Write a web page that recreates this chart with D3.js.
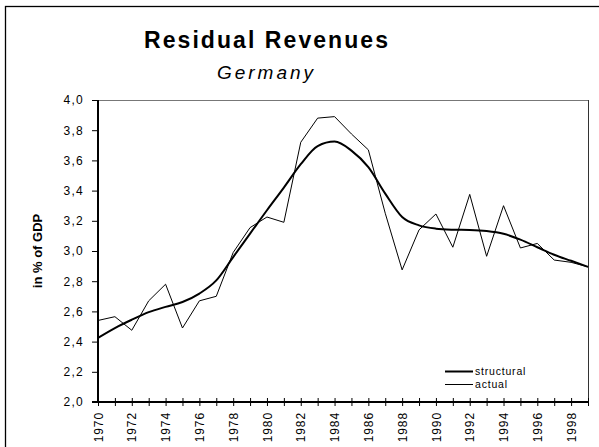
<!DOCTYPE html>
<html>
<head>
<meta charset="utf-8">
<script src="https://cdn.jsdelivr.net/npm/d3@7"></script>
<style>
  html, body { margin: 0; padding: 0; background: #fff; }
  svg { display: block; font-family: "Liberation Sans", Arial, sans-serif; }
</style>
</head>
<body>
<svg id="chart" width="599" height="447"></svg>
<script>
// Residual revenues of Germany, in % of GDP
const years = d3.range(1970, 2000);
const actual = [
  2.54, 2.565, 2.475, 2.67, 2.78, 2.49, 2.67, 2.70, 2.99, 3.155,
  3.225, 3.19, 3.72, 3.88, 3.89, 3.775, 3.67, 3.25, 2.875, 3.14,
  3.245, 3.025, 3.375, 2.965, 3.30, 3.02, 3.05, 2.94, 2.925, 2.895
];
const structural = [
  2.425, 2.49, 2.545, 2.595, 2.63, 2.662, 2.718, 2.805, 2.96, 3.115,
  3.27, 3.42, 3.575, 3.695, 3.725, 3.665, 3.555, 3.38, 3.225, 3.17,
  3.148, 3.141, 3.139, 3.132, 3.114, 3.075, 3.025, 2.975, 2.935, 2.895
];
const yTicks = [2.0, 2.2, 2.4, 2.6, 2.8, 3.0, 3.2, 3.4, 3.6, 3.8, 4.0];
const xLabelYears = d3.range(1970, 1999, 2);
const seriesNames = ["structural", "actual"];

const svg = d3.select("#chart");
const plotLeft = 98, plotRight = 588, plotTop = 100, plotBottom = 402;

const x = d3.scaleLinear().domain([1970, 1999]).range([plotLeft, plotRight]);
const y = d3.scaleLinear().domain([2.0, 4.0]).range([plotBottom, plotTop]);

// outer chart frame
svg.append("rect")
  .attr("x", 5.5).attr("y", 6.5)
  .attr("width", 620).attr("height", 460)
  .attr("fill", "none").attr("stroke", "#000").attr("stroke-width", 1.3);

// plot area frame: top and right edges
svg.append("line").attr("x1", plotLeft).attr("x2", plotRight)
  .attr("y1", plotTop + 0.5).attr("y2", plotTop + 0.5)
  .attr("stroke", "#777").attr("stroke-width", 1);
svg.append("line").attr("x1", plotRight + 0.5).attr("x2", plotRight + 0.5)
  .attr("y1", plotTop).attr("y2", plotBottom)
  .attr("stroke", "#333").attr("stroke-width", 1);

// titles
svg.append("text")
  .attr("x", 266).attr("y", 48)
  .attr("text-anchor", "middle")
  .attr("font-size", 23).attr("font-weight", "bold")
  .attr("textLength", 244).attr("lengthAdjust", "spacing")
  .text("Residual Revenues");
svg.append("text")
  .attr("x", 265).attr("y", 79)
  .attr("text-anchor", "middle")
  .attr("font-size", 19).attr("font-style", "italic")
  .attr("textLength", 96).attr("lengthAdjust", "spacing")
  .text("Germany");

// y axis
const yAxis = d3.axisLeft(y)
  .tickValues(yTicks)
  .tickSize(6)
  .tickPadding(8)
  .tickFormat(d => d3.format(".1f")(d).replace(".", ","));
const gy = svg.append("g").attr("transform", `translate(${plotLeft},0)`).call(yAxis);
gy.select(".domain").remove();
gy.selectAll(".tick line").attr("stroke", "#000");
gy.selectAll(".tick text").attr("font-size", 12).attr("fill", "#000")
  .attr("letter-spacing", 1.3)
  .attr("font-family", "Liberation Sans, Arial, sans-serif");
svg.append("line").attr("x1", plotLeft).attr("x2", plotLeft)
  .attr("y1", plotTop).attr("y2", plotBottom + 1)
  .attr("stroke", "#000").attr("stroke-width", 2);

// x axis: crossing ticks every year, labels every second year
const gx = svg.append("g").attr("transform", `translate(0,${plotBottom})`);
gx.selectAll("line.tk").data(years).join("line")
  .attr("class", "tk")
  .attr("x1", d => x(d) + 0.5).attr("x2", d => x(d) + 0.5)
  .attr("y1", -4).attr("y2", 4)
  .attr("stroke", "#000").attr("stroke-width", 1);
gx.append("line").attr("x1", plotLeft - 6).attr("x2", plotRight + 1).attr("y1", 0).attr("y2", 0)
  .attr("stroke", "#000").attr("stroke-width", 2);
gx.selectAll("text.lbl").data(xLabelYears).join("text")
  .attr("class", "lbl")
  .attr("transform", d => `translate(${x(d) + 0.5},10) rotate(-90)`)
  .attr("text-anchor", "end")
  .attr("dy", "0.35em")
  .attr("font-size", 12)
  .attr("letter-spacing", 0.9)
  .text(d => d);

// y axis title
svg.append("text")
  .attr("transform", "translate(42,251) rotate(-90)")
  .attr("text-anchor", "middle")
  .attr("font-size", 13).attr("font-weight", "bold")
  .text("in % of GDP");

// series
svg.append("path").datum(actual)
  .attr("d", d3.line().x((d, i) => x(years[i])).y(d => y(d)).curve(d3.curveLinear))
  .attr("fill", "none").attr("stroke", "#000").attr("stroke-width", 1);
svg.append("path").datum(structural)
  .attr("d", d3.line().x((d, i) => x(years[i])).y(d => y(d)).curve(d3.curveMonotoneX))
  .attr("fill", "none").attr("stroke", "#000").attr("stroke-width", 2);

// legend
const legend = svg.append("g");
seriesNames.forEach((name, i) => {
  const ly = 371 + i * 13;
  legend.append("line")
    .attr("x1", 445).attr("x2", 473).attr("y1", ly + 0.5).attr("y2", ly + 0.5)
    .attr("stroke", "#000").attr("stroke-width", i === 0 ? 2 : 1);
  legend.append("text")
    .attr("x", 475).attr("y", ly).attr("dy", "0.35em")
    .attr("font-size", 10.5).attr("letter-spacing", 0.8)
    .text(name);
});
</script>
</body>
</html>
